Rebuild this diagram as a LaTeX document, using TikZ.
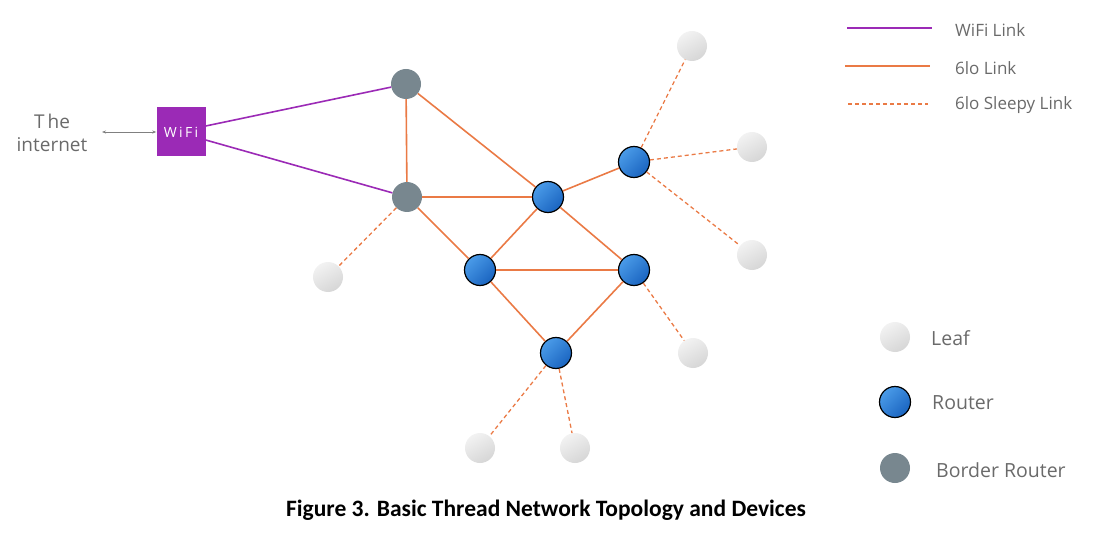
\documentclass[tikz,border=0pt]{standalone}
\usepackage{fontspec}
\setmainfont{Open Sans}
\newfontfamily\capfont{Carlito}
\usetikzlibrary{arrows.meta}
\definecolor{wpurple}{HTML}{9B2AB6}
\definecolor{lorange}{HTML}{EA7A45}
\definecolor{rblueA}{HTML}{4A9BE8}
\definecolor{rblueB}{HTML}{1A64C0}
\definecolor{bgray}{HTML}{78878F}
\definecolor{leafA}{HTML}{F2F2F2}
\definecolor{leafB}{HTML}{D6D6D6}
\definecolor{txtgray}{HTML}{6A6A6A}
\tikzset{
  leaf/.style={circle, minimum size=30pt, inner sep=0pt, top color=leafA, bottom color=leafB, shading angle=30, draw=none},
  router/.style={circle, minimum size=31pt, inner sep=0pt, top color=rblueA, bottom color=rblueB, shading angle=45, draw=black, line width=1.2pt},
  border/.style={circle, minimum size=30pt, inner sep=0pt, fill=bgray, draw=none},
  wifilink/.style={draw=wpurple, line width=1.6pt},
  lolink/.style={draw=lorange, line width=1.6pt},
  sleepy/.style={draw=lorange, line width=1.3pt, dash pattern=on 4pt off 3pt},
  lbl/.style={font=\fontsize{17}{19}\selectfont, text=txtgray, anchor=west, inner sep=0pt},
  klbl/.style={font=\fontsize{19.5}{22}\selectfont, text=txtgray, anchor=west, inner sep=0pt},
}
\begin{document}
\begin{tikzpicture}[x=1pt,y=-1pt]
\useasboundingbox (0,0) rectangle (1094,537);
% nodes
\node[border] (br1) at (406,84) {};
\node[border] (br2) at (407,197) {};
\node[router] (r1) at (548,197) {};
\node[router] (r2) at (634,162) {};
\node[router] (r3) at (480,270) {};
\node[router] (r4) at (634,270) {};
\node[router] (r5) at (556,353) {};
\node[leaf] (l1) at (692,46) {};
\node[leaf] (l2) at (752,147) {};
\node[leaf] (l3) at (752,255) {};
\node[leaf] (l4) at (328,277) {};
\node[leaf] (l5) at (693,353) {};
\node[leaf] (l6) at (480,448) {};
\node[leaf] (l7) at (575,448) {};
\node[fill=wpurple, minimum width=49pt, minimum height=49pt, inner sep=0pt, text=white, font=\fontsize{14}{16}\selectfont] (wifi) at (181,132) {W\,i\,F\,i};
\node[font=\fontsize{19}{23}\selectfont, text=txtgray, align=center, inner sep=0pt] (inet) at (52,133) {T\,he\\internet};
\coordinate (a1) at (102,132);
\draw[{Stealth[length=4pt,width=3pt]}-{Stealth[length=4pt,width=3pt]}, draw=gray, line width=0.8pt] (a1) -- (wifi.west);
% links
\draw[wifilink] (wifi.east |- 0,126) -- (br1);
\draw[wifilink] (wifi.east |- 0,140) -- (br2);
\path[lolink] (br1) -- (br2);
\path[lolink] (br1) -- (r1);
\path[lolink] (br2) -- (r1);
\path[lolink] (br2) -- (r3);
\path[lolink] (r1) -- (r3);
\path[lolink] (r1) -- (r4);
\path[lolink] (r1) -- (r2);
\path[lolink] (r3) -- (r4);
\path[lolink] (r3) -- (r5);
\path[lolink] (r4) -- (r5);
\path[sleepy] (br2) -- (l4);
\path[sleepy] (r2) -- (l1);
\path[sleepy] (r2) -- (l2);
\path[sleepy] (r2) -- (l3);
\path[sleepy] (r4) -- (l5);
\path[sleepy] (r5) -- (l6);
\path[sleepy] (r5) -- (l7);
% legend
\coordinate (g1a) at (847,28); \coordinate (g1b) at (932,28);
\coordinate (g2a) at (845,66); \coordinate (g2b) at (930,66);
\coordinate (g3a) at (848,104); \coordinate (g3b) at (928,104);
\draw[wifilink] (g1a) -- (g1b);
\draw[lolink] (g2a) -- (g2b);
\draw[sleepy] (g3a) -- (g3b);
\node[lbl] (t1) at (955,30) {WiFi Link};
\node[lbl] (t2) at (955,68) {6lo Link};
\node[lbl] (t3) at (955,105) {6lo Sleepy Link};
\node[leaf] (kl) at (895,337) {};
\node[router] (kr) at (895,402) {};
\node[border] (kb) at (895,468) {};
\node[klbl] (t4) at (931,338) {Leaf};
\node[klbl] (t5) at (932,403) {Router};
\node[klbl] (t6) at (936,470) {Border Router};
\node[font=\capfont\bfseries\fontsize{23.5}{26}\selectfont, inner sep=0pt] (cap) at (546,510) {Figure 3. Basic Thread Network Topology and Devices};
\end{tikzpicture}
\end{document}
